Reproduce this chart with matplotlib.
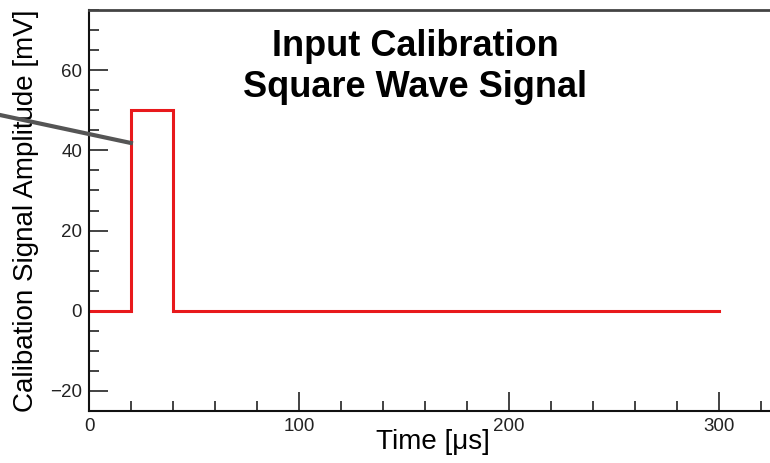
import matplotlib
matplotlib.use('Agg')
import matplotlib.pyplot as plt
from matplotlib.ticker import MultipleLocator
from matplotlib.lines import Line2D

# square wave: time [us] and amplitude [mV]
time_us = [0, 20, 20, 40, 40, 300]
amp_mv = [0, 0, 50, 50, 0, 0]

title_lines = ['Input Calibration', 'Square Wave Signal']
xlabel = 'Time [\u03bcs]'
ylabel = 'Calibation Signal Amplitude [mV]'

plt.rcParams['font.family'] = ['Liberation Sans', 'DejaVu Sans']

fig = plt.figure(figsize=(7.7, 4.63), dpi=100)
ax = fig.add_axes([0.1156, 0.1123, 0.90, 0.866])

ax.plot(time_us, amp_mv, color='#e8191c', lw=2.2, solid_joinstyle='miter')

ax.set_xlim(0, 330)
ax.set_ylim(-25, 75)

ax.xaxis.set_major_locator(MultipleLocator(100))
ax.xaxis.set_minor_locator(MultipleLocator(20))
ax.yaxis.set_major_locator(MultipleLocator(20))
ax.yaxis.set_minor_locator(MultipleLocator(5))
ax.tick_params(which='both', direction='in', width=1.2, colors='#222222',
               labelsize=13.5, top=False, right=False)
ax.tick_params(which='major', length=14)
ax.tick_params(which='minor', length=7)
ax.tick_params(axis='x', pad=5)
ax.tick_params(axis='y', pad=5)

for s in ['left', 'bottom']:
    ax.spines[s].set_linewidth(1.5)
    ax.spines[s].set_color('#111111')
ax.spines['top'].set_linewidth(2)
ax.spines['top'].set_color('#444444')
ax.spines['right'].set_visible(False)

ax.set_xlabel(xlabel, fontsize=20)
ax.xaxis.set_label_coords(0.496, -0.045)
ax.set_ylabel(ylabel, fontsize=20)
ax.yaxis.set_label_coords(-0.072, 0.5)

fig.text(0.539, 0.90, title_lines[0], ha='center', va='center',
         fontsize=26, fontweight='bold')
fig.text(0.539, 0.81, title_lines[1], ha='center', va='center',
         fontsize=26, fontweight='bold')

# pointer line from the left edge onto the pulse
fig.add_artist(Line2D([0.0, 0.170], [1 - 115 / 463, 1 - 143 / 463],
                      color='#555555', lw=3, transform=fig.transFigure))

fig.savefig('out.png', dpi=100)
